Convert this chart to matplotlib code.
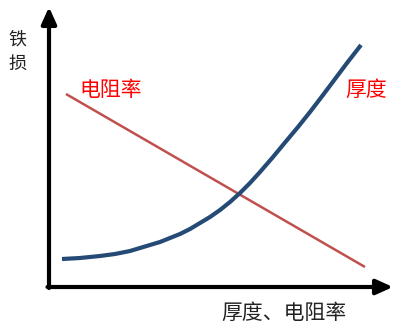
import matplotlib
matplotlib.use("Agg")
import matplotlib.pyplot as plt
import numpy as np

plt.rcParams['font.family'] = ['Noto Sans CJK SC', 'DejaVu Sans']

# data (x: thickness/resistivity, y: iron loss), arbitrary units
res_x = [66, 365]
res_y = [236, 63]
thick_x = [62, 80, 100, 115, 130, 140, 150, 160, 170, 180, 190, 200, 210, 220,
           230, 240, 250, 260, 273, 285, 298, 310, 323, 335, 347, 361]
thick_y = [71, 72, 74, 76, 79, 82, 85, 88, 92, 96, 101, 107, 113, 120,
           128, 137, 147, 158, 173, 187.5, 203, 218, 235, 251, 267, 285]

fig = plt.figure(figsize=(4.05, 3.30), dpi=100)
ax = fig.add_axes([0, 0, 1, 1])
ax.set_xlim(0, 405)
ax.set_ylim(0, 330)
ax.axis('off')

# axes arrows
ax.annotate('', xy=(49, 323), xytext=(49, 42),
            arrowprops=dict(arrowstyle='-|>,head_length=1.0,head_width=0.45',
                            lw=3, color='black', shrinkA=0, shrinkB=0))
ax.annotate('', xy=(393, 43), xytext=(47.5, 43),
            arrowprops=dict(arrowstyle='-|>,head_length=1.0,head_width=0.45',
                            lw=3, color='black', shrinkA=0, shrinkB=0))

ax.plot(res_x, res_y, color='#C0504D', lw=1.8, solid_capstyle='butt')
ax.plot(thick_x, thick_y, color='#244A75', lw=3, solid_capstyle='butt',
        solid_joinstyle='round')

ax.text(17, 290, '铁', fontsize=13, ha='center', va='center', color='#222222')
ax.text(17, 266, '损', fontsize=13, ha='center', va='center', color='#222222')
ax.text(111, 240, '电阻率', fontsize=15, ha='center', va='center', color='#FF0000')
ax.text(366, 240, '厚度', fontsize=15, ha='center', va='center', color='#FF0000')
ax.text(284, 17, '厚度、电阻率', fontsize=15, ha='center', va='center', color='#222222')

fig.savefig('out.png', dpi=100)
